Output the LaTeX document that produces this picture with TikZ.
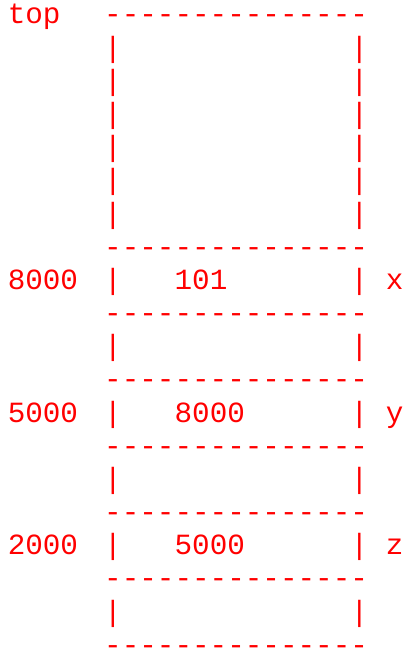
\documentclass[tikz,border=0pt]{standalone}
\usepackage{fontspec}
\setmonofont{Liberation Mono}
\begin{document}
\begin{tikzpicture}[
    x=17.6pt, y=-33.17pt, % one column, one text row
    ascii/.style={red, font=\ttfamily\fontsize{29.3}{35}\selectfont, inner sep=0pt, anchor=base west} % red monospace text
]
    \useasboundingbox (-5.909,-0.443) rectangle (17.216,19.09);

    % Dashed borders of the cells
    \foreach \r in {0,7,9,11,13,15,17,19}
        \node[ascii] (dash\r) at (0,\r+0.28) {---------------};

    % Side walls
    \foreach \r in {1,2,3,4,5,6,8,10,12,14,16,18} {
        \node[ascii] (lwall\r) at (0,\r+0.28) {|};
        \node[ascii] (rwall\r) at (14,\r+0.28) {|};
    }

    % Top of the stack
    \node[ascii] (top) at (-5.48,0.28) {top};

    % Addresses, contents and names
    \foreach \r/\addr/\val/\var in {8/8000/101/x, 12/5000/8000/y, 16/2000/5000/z} {
        \node[ascii] (addr\var) at (-5.48,\r+0.28) {\addr};
        \node[ascii] (val\var) at (4,\r+0.28) {\val};
        \node[ascii] (name\var) at (16,\r+0.28) {\var};
    }

\end{tikzpicture}
\end{document}
